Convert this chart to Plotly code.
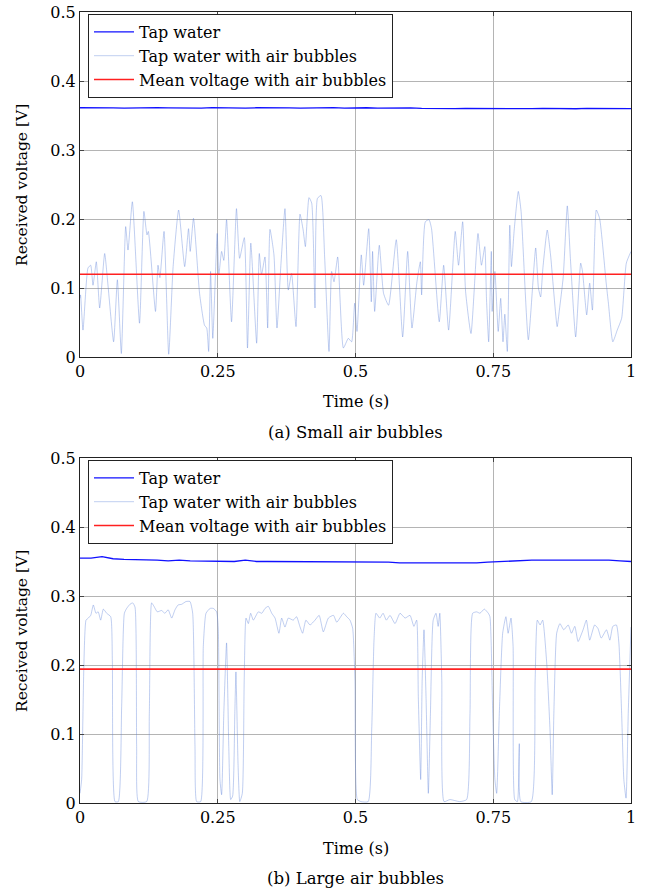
import numpy as np
import plotly.graph_objects as go

# ---------------- data ----------------
x_ticks = [0, 0.25, 0.5, 0.75, 1]
x_ticktext = ["0", "0.25", "0.5", "0.75", "1"]
y_ticks = [0, 0.1, 0.2, 0.3, 0.4, 0.5]
y_ticktext = ["0", "0.1", "0.2", "0.3", "0.4", "0.5"]

tap_small_v = [0.3612, 0.3608, 0.3613, 0.3610, 0.3607, 0.3612, 0.3609, 0.3614, 0.3610, 0.3608,
               0.3612, 0.3607, 0.3613, 0.3609, 0.3611, 0.3606, 0.3612, 0.3608, 0.3614, 0.3610,
               0.3608, 0.3612, 0.3609, 0.3613, 0.3607, 0.3611, 0.3612, 0.3608, 0.3612, 0.3609,
               0.3610, 0.3603, 0.3600, 0.3603, 0.3599, 0.3602, 0.3600, 0.3603, 0.3598, 0.3601,
               0.3602, 0.3599, 0.3603, 0.3600, 0.3601, 0.3598, 0.3602, 0.3599, 0.3601, 0.3600, 0.3599]
tap_large_v = [0.355, 0.355, 0.357, 0.354, 0.353, 0.353, 0.352, 0.352, 0.351, 0.352,
               0.351, 0.351, 0.350, 0.351, 0.350, 0.352, 0.350, 0.350, 0.350, 0.349,
               0.350, 0.349, 0.349, 0.350, 0.349, 0.350, 0.349, 0.349, 0.349, 0.348,
               0.348, 0.348, 0.347, 0.347, 0.347, 0.347, 0.348, 0.349, 0.350, 0.351,
               0.351, 0.352, 0.352, 0.352, 0.353, 0.353, 0.353, 0.352, 0.352, 0.351, 0.350]
tap_t = np.linspace(0, 1, len(tap_small_v))

small_t = [0.000, 0.001, 0.0054, 0.0145, 0.0194, 0.0236, 0.0296, 0.0357, 0.0448, 0.0508, 0.061, 0.0678,
           0.075, 0.0829, 0.0871, 0.095, 0.108, 0.116, 0.1216, 0.124, 0.137, 0.1416, 0.145, 0.1525,
           0.161, 0.169, 0.179, 0.190, 0.197, 0.200, 0.206, 0.217, 0.226, 0.230, 0.2335, 0.237, 0.241,
           0.249, 0.252, 0.257, 0.261, 0.266, 0.275, 0.284, 0.2897, 0.2982, 0.304, 0.310, 0.3206,
           0.3254, 0.3294, 0.3357, 0.3406, 0.3448, 0.352, 0.3575, 0.3648, 0.372, 0.378, 0.384, 0.392,
           0.3993, 0.405, 0.409, 0.4156, 0.4205, 0.4265, 0.431, 0.4374, 0.444, 0.4519, 0.4567, 0.461,
           0.4677, 0.478, 0.487, 0.493, 0.4985, 0.5027, 0.5105, 0.5148, 0.524, 0.5287, 0.531, 0.5348,
           0.5432, 0.551, 0.560, 0.574, 0.5856, 0.5947, 0.6025, 0.6115, 0.6177, 0.620, 0.6267, 0.6334,
           0.638, 0.652, 0.660, 0.669, 0.681, 0.687, 0.6945, 0.6998, 0.7096, 0.7223, 0.7286, 0.7347,
           0.7377, 0.7417, 0.7465, 0.748, 0.753, 0.759, 0.7635, 0.7677, 0.771, 0.7755, 0.780, 0.783,
           0.788, 0.7955, 0.8005, 0.8137, 0.827, 0.832, 0.836, 0.840, 0.848, 0.854, 0.866, 0.870, 0.877,
           0.8844, 0.890, 0.8996, 0.9087, 0.912, 0.9196, 0.925, 0.930, 0.937, 0.943, 0.955, 0.959, 0.967,
           0.975, 0.983, 0.9915, 1.0]
small_v = [0.085, 0.090, 0.039, 0.129, 0.133, 0.104, 0.138, 0.071, 0.150, 0.104, 0.022, 0.112,
           0.005, 0.189, 0.155, 0.225, 0.049, 0.211, 0.177, 0.182, 0.066, 0.133, 0.115, 0.182,
           0.004, 0.131, 0.213, 0.131, 0.186, 0.153, 0.201, 0.092, 0.046, 0.042, 0.008, 0.124, 0.027,
           0.179, 0.119, 0.153, 0.140, 0.199, 0.051, 0.215, 0.143, 0.173, 0.013, 0.165, 0.020,
           0.150, 0.119, 0.145, 0.042, 0.185, 0.148, 0.042, 0.136, 0.215, 0.097, 0.121, 0.044,
           0.207, 0.184, 0.160, 0.231, 0.223, 0.071, 0.230, 0.234, 0.145, 0.008, 0.124, 0.109,
           0.145, 0.013, 0.027, 0.022, 0.078, 0.037, 0.148, 0.104, 0.186, 0.080, 0.153, 0.066,
           0.162, 0.092, 0.075, 0.170, 0.029, 0.153, 0.042, 0.109, 0.138, 0.090, 0.196, 0.199,
           0.186, 0.051, 0.133, 0.039, 0.182, 0.133, 0.196, 0.095, 0.034, 0.179, 0.133, 0.160,
           0.085, 0.022, 0.153, 0.066, 0.124, 0.037, 0.085, 0.022, 0.062, 0.008, 0.191, 0.131,
           0.184, 0.240, 0.211, 0.025, 0.158, 0.100, 0.087, 0.128, 0.184, 0.148, 0.044, 0.068, 0.116,
           0.219, 0.143, 0.029, 0.136, 0.124, 0.061, 0.107, 0.068, 0.213, 0.201, 0.107, 0.078, 0.022,
           0.039, 0.056, 0.136, 0.153]

large_t = [0, 0.003, 0.0109, 0.015, 0.0195, 0.0242, 0.029, 0.033, 0.0375, 0.0424, 0.0484, 0.0557,
           0.0587, 0.0635, 0.0696, 0.0756, 0.0805, 0.0847, 0.0907, 0.0956, 0.0998, 0.1028, 0.1059,
           0.121, 0.1258, 0.130, 0.1343, 0.1403, 0.148, 0.154, 0.160, 0.1664, 0.1724, 0.178, 0.1845,
           0.1924, 0.1996, 0.2045, 0.2087, 0.2117, 0.219, 0.2238, 0.2287, 0.236, 0.242, 0.248, 0.251,
           0.254, 0.257, 0.261, 0.266, 0.270, 0.2735, 0.277, 0.281, 0.283, 0.2868, 0.290, 0.2946,
           0.298, 0.3013, 0.3055, 0.3097, 0.3146, 0.3236, 0.330, 0.3358, 0.3418, 0.348, 0.354, 0.361,
           0.366, 0.372, 0.378, 0.387, 0.393, 0.399, 0.404, 0.410, 0.4175, 0.4265, 0.434, 0.4416,
           0.4507, 0.460, 0.466, 0.478, 0.484, 0.490, 0.4949, 0.499, 0.5033, 0.510, 0.523, 0.5294,
           0.5336, 0.5372, 0.544, 0.550, 0.556, 0.5626, 0.5717, 0.5808, 0.590, 0.5989, 0.606, 0.611,
           0.614, 0.6183, 0.621, 0.6243, 0.628, 0.6322, 0.636, 0.641, 0.6461, 0.650, 0.653, 0.6566,
           0.6607, 0.6715, 0.689, 0.7017, 0.7078, 0.7126, 0.7199, 0.7259, 0.7338, 0.741, 0.744, 0.749,
           0.753, 0.7562, 0.761, 0.7671, 0.773, 0.777, 0.7822, 0.786, 0.789, 0.7938, 0.7973, 0.800,
           0.819, 0.826, 0.830, 0.835, 0.8397, 0.847, 0.853, 0.857, 0.860, 0.8651, 0.871, 0.878, 0.886,
           0.892, 0.898, 0.904, 0.913, 0.919, 0.925, 0.934, 0.940, 0.946, 0.9555, 0.9616, 0.967, 0.9735,
           0.978, 0.983, 0.987, 0.991, 0.995, 1.0]
large_v = [0.014, 0.034, 0.265, 0.268, 0.272, 0.287, 0.275, 0.277, 0.265, 0.281, 0.275, 0.270,
           0.207, 0.002, 0.002, 0.140, 0.275, 0.282, 0.288, 0.290, 0.284, 0.082, 0.002,
           0.002, 0.130, 0.290, 0.285, 0.277, 0.279, 0.275, 0.280, 0.268, 0.280, 0.287, 0.288,
           0.292, 0.292, 0.275, 0.082, 0.002, 0.002, 0.227, 0.275, 0.282, 0.282, 0.277, 0.251,
           0.034, 0.012, 0.130, 0.232, 0.082, 0.005, 0.010, 0.130, 0.190, 0.057, 0.002, 0.014,
           0.178, 0.268, 0.260, 0.275, 0.265, 0.277, 0.275, 0.282, 0.285, 0.275, 0.268, 0.246,
           0.268, 0.255, 0.268, 0.265, 0.270, 0.256, 0.246, 0.265, 0.258, 0.265, 0.272, 0.248,
           0.268, 0.272, 0.262, 0.275, 0.270, 0.265, 0.253, 0.178, 0.005, 0.002, 0.002, 0.106,
           0.236, 0.275, 0.268, 0.275, 0.265, 0.272, 0.260, 0.275, 0.268, 0.272, 0.256, 0.265,
           0.154, 0.034, 0.178, 0.251, 0.154, 0.014, 0.130, 0.265, 0.275, 0.256, 0.275, 0.178,
           0.002, 0.005, 0.002, 0.005, 0.130, 0.275, 0.277, 0.275, 0.281, 0.275, 0.270, 0.130,
           0.034, 0.014, 0.130, 0.246, 0.270, 0.246, 0.268, 0.227, 0.005, 0.002, 0.086, 0.002,
           0.002, 0.178, 0.265, 0.258, 0.265, 0.203, 0.106, 0.012, 0.130, 0.246, 0.260, 0.251, 0.258,
           0.246, 0.256, 0.234, 0.251, 0.265, 0.236, 0.258, 0.253, 0.239, 0.251, 0.236, 0.256, 0.258,
           0.232, 0.130, 0.034, 0.007, 0.130, 0.255]

mean_small = 0.120
mean_large = 0.194

names = ["Tap water", "Tap water with air bubbles", "Mean voltage with air bubbles"]
captions = ["(a) Small air bubbles", "(b) Large air bubbles"]
x_title = "Time (s)"
y_title = "Received voltage [V]"

# ---------------- figure ----------------
W, H = 645, 891
FONT = "DejaVu Serif"
col_tap = "#1010ff"
col_bub = "rgba(90,125,215,0.55)"
col_mean = "#ff2020"

fig = go.Figure()
panels = [
    (tap_small_v, small_t, small_v, mean_small, "x", "y", "legend"),
    (tap_large_v, large_t, large_v, mean_large, "x2", "y2", "legend2"),
]
for tap_v, bt, bv, mv, xa, ya, lg in panels:
    fig.add_trace(go.Scatter(x=tap_t, y=tap_v, mode="lines", name=names[0],
                             line=dict(color=col_tap, width=1.3), xaxis=xa, yaxis=ya, legend=lg))
    fig.add_trace(go.Scatter(x=bt, y=bv, mode="lines", name=names[1],
                             line=dict(color=col_bub, width=0.7, shape="spline", smoothing=0.5),
                             xaxis=xa, yaxis=ya, legend=lg))
    fig.add_trace(go.Scatter(x=[0, 1], y=[mv, mv], mode="lines", name=names[2],
                             line=dict(color=col_mean, width=1.6), xaxis=xa, yaxis=ya, legend=lg))

xdom = [80 / W, 631 / W]
ydom1 = [1 - 357 / H, 1 - 12 / H]
ydom2 = [1 - 803 / H, 1 - 458 / H]

def xaxis(dom_anchor):
    return dict(domain=xdom, anchor=dom_anchor, range=[0, 1], tickvals=x_ticks, ticktext=x_ticktext,
                showgrid=True, gridcolor="#b4b4b4", gridwidth=1, zeroline=False,
                showline=True, linecolor="#222", linewidth=1, mirror="ticks",
                ticks="inside", ticklen=4, tickcolor="#444", automargin=False,
                tickfont=dict(family=FONT, size=16, color="black"))

def yaxis(dom, dom_anchor):
    return dict(domain=dom, anchor=dom_anchor, range=[0, 0.5], tickvals=y_ticks, ticktext=y_ticktext,
                showgrid=True, gridcolor="#b4b4b4", gridwidth=1, zeroline=False,
                showline=True, linecolor="#222", linewidth=1, mirror="ticks",
                ticks="inside", ticklen=4, tickcolor="#444", automargin=False,
                tickfont=dict(family=FONT, size=16, color="black"))

legend_style = dict(xanchor="left", yanchor="top", bgcolor="white", bordercolor="#222", borderwidth=1,
                    font=dict(family=FONT, size=16, color="black"), tracegroupgap=0,
                    itemwidth=40, traceorder="normal")

xc = 0.5 * (xdom[0] + xdom[1])
ann_font = dict(family=FONT, size=16, color="black")

def ann(text, x, y, font, angle=0):
    return dict(text=text, x=x, y=y, xref="paper", yref="paper", showarrow=False,
                xanchor="center", yanchor="middle", textangle=angle, font=font)

annotations = [
    ann(x_title, xc, 1 - 401 / H, ann_font),
    ann(x_title, xc, 1 - 848 / H, ann_font),
    ann(y_title, 22 / W, 1 - 185 / H, dict(family=FONT, size=15.5, color="black"), -90),
    ann(y_title, 22 / W, 1 - 631 / H, dict(family=FONT, size=15.5, color="black"), -90),
    ann(captions[0], xc, 1 - 432 / H, dict(family=FONT, size=16.5, color="black")),
    ann(captions[1], xc, 1 - 878 / H, dict(family=FONT, size=16.5, color="black")),
]

fig.update_layout(
    width=W, height=H, margin=dict(l=0, r=0, t=0, b=0, autoexpand=False),
    paper_bgcolor="white", plot_bgcolor="white", showlegend=True,
    xaxis=xaxis("y"), yaxis=yaxis(ydom1, "x"),
    xaxis2=xaxis("y2"), yaxis2=yaxis(ydom2, "x2"),
    legend=dict(x=88 / W, y=1 - 14 / H, **legend_style),
    legend2=dict(x=88 / W, y=1 - 460 / H, **legend_style),
    annotations=annotations,
)

fig.write_html("out.html")
